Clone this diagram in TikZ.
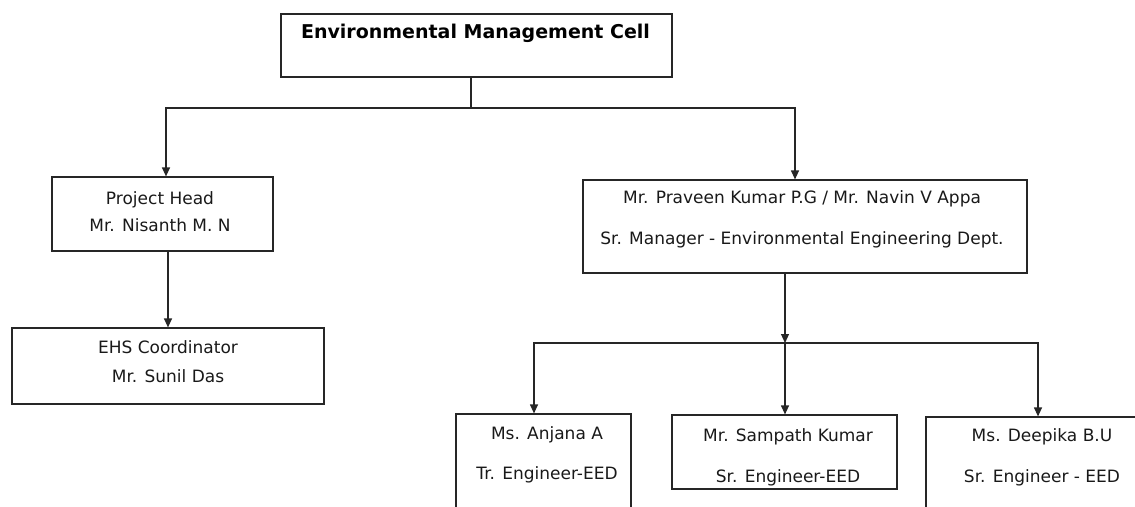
\documentclass[tikz,border=0pt]{standalone}
\usepackage{fontspec}
\setmainfont{DejaVu Sans}
\usetikzlibrary{arrows.meta}

\begin{document}
\begin{tikzpicture}[x=1pt,y=-1pt]
\tikzstyle{lien}=[-{Triangle[width=8pt,length=9pt]},line width=1.2pt,draw=black!85]
\tikzstyle{trait}=[line width=1.2pt,draw=black!85]
\tikzset{boite/.style n args={2}{draw=black!85,line width=1.2pt,minimum width=#1,minimum height=#2,inner sep=0pt},
texte/.style={align=center,inner sep=0pt,text=black!90,font=\fontsize{17}{#1}\selectfont},
texte/.default={27},
titre/.style={inner sep=0pt,text=black,font=\fontsize{19}{22}\selectfont\bfseries}}
\useasboundingbox (0,0) rectangle (1135,506);

\node[boite={391}{63}] (emc) at (476.5,45.5) {};
\node[titre] (emc-t) at (475.5,33) {Environmental Management Cell};
\node[boite={221}{74}] (head) at (162.5,214) {};
\node[texte=27] (head-t) at (160,211.5) {Project Head\\Mr. Nisanth M. N};
\node[boite={312}{76}] (ehs) at (168,366) {};
\node[texte=29] (ehs-t) at (168,361.5) {EHS Coordinator\\Mr. Sunil Das};
\node[boite={444}{93}] (sr) at (805,226.5) {};
\node[texte=41] (sr-t) at (802,219.5) {Mr. Praveen Kumar P.G / Mr. Navin V Appa\\Sr. Manager - Environmental Engineering Dept.};
\node[boite={175}{120}] (anj) at (543.5,474) {};
\node[texte=40] (anj-t) at (547,455) {Ms. Anjana A\\Tr. Engineer-EED};
\node[boite={225}{74}] (sam) at (784.5,452) {};
\node[texte=41] (sam-t) at (788,457.5) {Mr. Sampath Kumar\\Sr. Engineer-EED};
\node[boite={230}{120}] (dee) at (1041,477) {};
\node[texte=41] (dee-t) at (1042,457.5) {Ms. Deepika B.U\\Sr. Engineer - EED};

\coordinate (j1) at (471,108);
\coordinate (j2) at (785,343);
\draw[trait] (emc.south -| j1) -- (j1);
\draw[lien] (j1) -| ([xshift=3.5pt]head.north);
\draw[lien] (j1) -| ([xshift=-10pt]sr.north);
\draw[lien] (ehs.north |- head.south) -- (ehs.north);
\draw[lien] (sr.south -| j2) -- (j2);
\draw[lien] (j2) -| ([xshift=-9.5pt]anj.north);
\draw[lien] (j2) -- (sam.north -| j2);
\draw[lien] (j2) -| ([xshift=-3pt]dee.north);

\end{tikzpicture}
\end{document}
